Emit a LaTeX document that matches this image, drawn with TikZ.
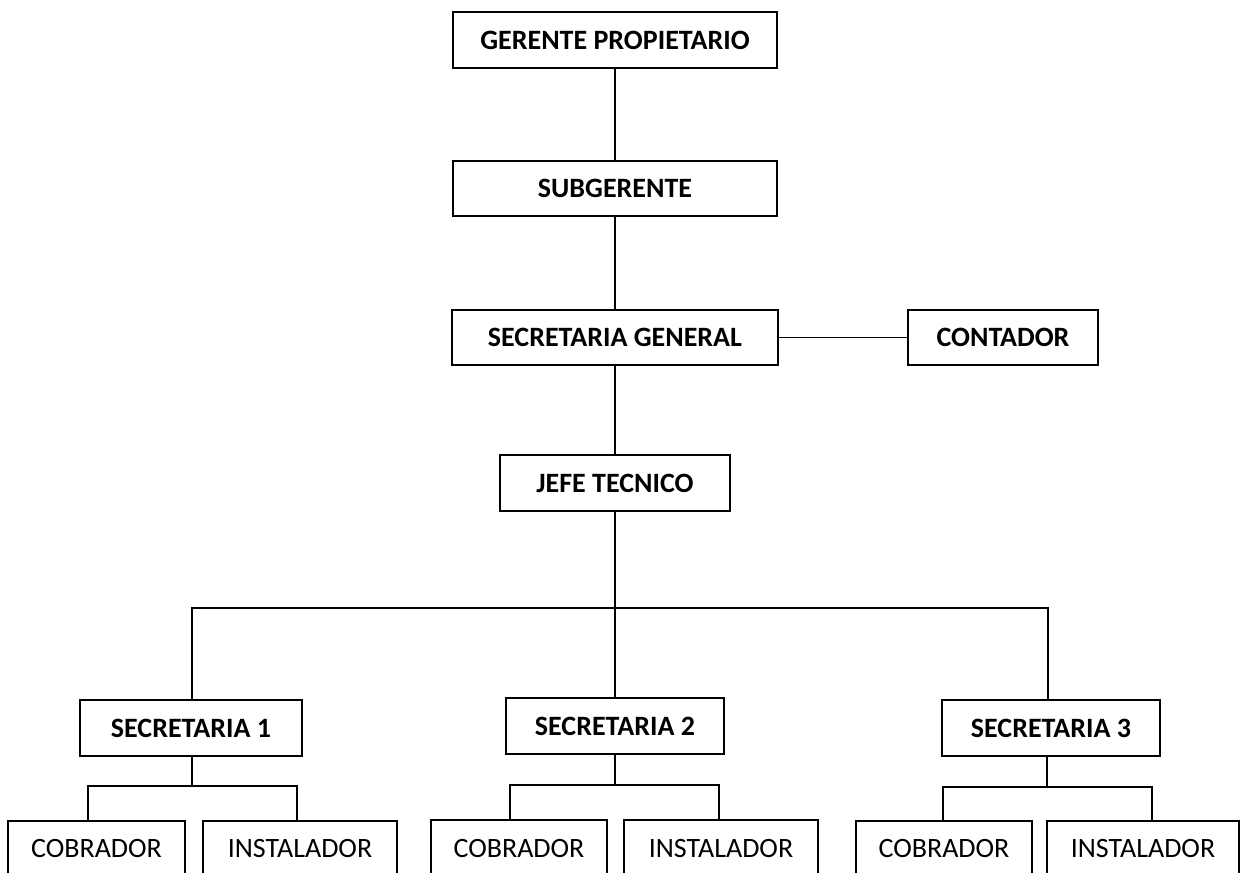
\documentclass[tikz,border=0pt]{standalone}
\usepackage{fontspec}
\setmainfont{Carlito}
\begin{document}
\begin{tikzpicture}[x=1pt,y=-1pt,
  box/.style={draw=black,line width=1.8pt,fill=white,inner sep=0pt,
    font=\fontsize{28}{33}\selectfont\bfseries},
  lowbox/.style={draw=black,line width=1.8pt,fill=white,inner sep=0pt},
  lowtext/.style={font=\fontsize{28}{33}\selectfont},
  link/.style={draw=black,line width=1.4pt}]
\useasboundingbox (0,0) rectangle (1248,873);
\clip (0,0) rectangle (1248,873);
\fill[white] (0,0) rectangle (1248,873);

\node[box,minimum width=324pt,minimum height=56pt] (gp) at (615,40) {GERENTE PROPIETARIO};
\node[box,minimum width=324pt,minimum height=55pt] (sub) at (615,188.5) {SUBGERENTE};
\node[box,minimum width=326pt,minimum height=55pt] (sg) at (615,337.5) {SECRETARIA GENERAL};
\node[box,minimum width=190pt,minimum height=55pt] (cont) at (1003,337.5) {CONTADOR};
\node[box,minimum width=230pt,minimum height=56pt] (jt) at (615,483) {JEFE TECNICO};

\node[box,minimum width=222pt,minimum height=56pt] (s1) at (191,728) {SECRETARIA 1};
\node[box,minimum width=218pt,minimum height=56pt] (s2) at (615,726) {SECRETARIA 2};
\node[box,minimum width=218pt,minimum height=56pt] (s3) at (1051,728) {SECRETARIA 3};

\node[lowbox,minimum width=177pt,minimum height=100pt,anchor=north] (c1) at (96.5,820) {};
\node[lowbox,minimum width=194pt,minimum height=100pt,anchor=north] (i1) at (300,820) {};
\node[lowbox,minimum width=176pt,minimum height=100pt,anchor=north] (c2) at (519,819) {};
\node[lowbox,minimum width=194pt,minimum height=100pt,anchor=north] (i2) at (721,819) {};
\node[lowbox,minimum width=176pt,minimum height=100pt,anchor=north] (c3) at (944,820) {};
\node[lowbox,minimum width=192pt,minimum height=100pt,anchor=north] (i3) at (1143,820) {};

\node[lowtext] (tc1) at (c1.north |- 0,848) {COBRADOR};
\node[lowtext] (ti1) at (i1.north |- 0,848) {INSTALADOR};
\node[lowtext] (tc2) at (c2.north |- 0,848) {COBRADOR};
\node[lowtext] (ti2) at (i2.north |- 0,848) {INSTALADOR};
\node[lowtext] (tc3) at (c3.north |- 0,848) {COBRADOR};
\node[lowtext] (ti3) at (i3.north |- 0,848) {INSTALADOR};

\coordinate (bar) at (615,608);
\coordinate (b1) at (192,786);
\coordinate (b2) at (615,785);
\coordinate (b3) at (1047,787);

\draw[link] (gp) -- (sub);
\draw[link] (sub) -- (sg);
\draw[link] (sg) -- (cont);
\draw[link] (sg.south) -- (jt.north);
\draw[link] (jt.south) -- (bar);
\draw[link] (s1.north -| 192,0) -- (192,608) -- (1048,608) -- (s3.north -| 1048,0);
\draw[link] (bar) -- (s2.north);

\draw[link] (s1.south -| b1) -- (b1);
\draw[link] (c1.north -| 88,0) -- (88,786) -- (297,786) -- (i1.north -| 297,0);
\draw[link] (s2.south) -- (b2);
\draw[link] (c2.north -| 510,0) -- (510,785) -- (719,785) -- (i2.north -| 719,0);
\draw[link] (s3.south -| b3) -- (b3);
\draw[link] (c3.north -| 943,0) -- (943,787) -- (1152,787) -- (i3.north -| 1152,0);
\end{tikzpicture}
\end{document}
